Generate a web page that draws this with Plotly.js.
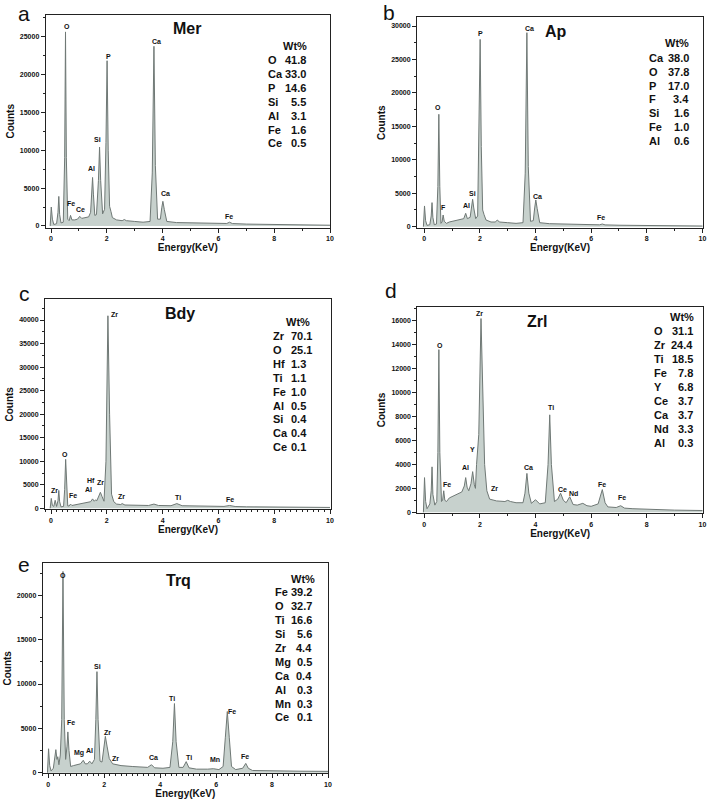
<!DOCTYPE html>
<html><head><meta charset="utf-8">
<script src="https://cdn.plot.ly/plotly-3.0.1.min.js"></script>
<style>html,body{margin:0;padding:0;background:#fff}#chart{width:708px;height:801px}</style>
</head><body><div id="chart"></div>
<script>
// ---------- DATA ----------
// Panel a : Mer
const merEnergy = [-0.03,0.01,0.05,0.1,0.2,0.25,0.28,0.31,0.36,0.44,0.49,0.52,0.55,0.6,0.65,0.7,0.75,0.85,0.95,1.03,1.1,1.2,1.35,1.42,1.46,1.49,1.52,1.57,1.63,1.7,1.74,1.78,1.85,1.92,1.97,2.01,2.05,2.1,2.15,2.2,2.35,2.55,2.63,2.7,3.0,3.3,3.55,3.63,3.69,3.74,3.82,3.92,3.97,4.01,4.06,4.15,4.5,5,5.5,6.0,6.3,6.4,6.5,7,8,9,10];
const merCounts = [0,2500,900,200,300,1800,3900,1500,400,500,9000,25600,9000,900,700,1400,800,800,900,1270,1000,1100,1200,1800,4500,6400,4200,1400,1500,6000,10400,6000,1600,2200,11000,21800,10000,2600,1900,1100,800,700,850,700,600,500,600,7000,23700,8000,900,900,2400,3250,2200,600,450,400,350,300,330,500,320,250,180,130,100];
const merElements = ['O','Ca','P','Si','Al','Fe','Ce'];
const merWt = ['41.8','33.0','14.6','5.5','3.1','1.6','0.5'];
const merPeakText = ['O','Ca','P','Si','Al','Ca','Fe','Ce','Fe'];
const merPeakEnergy = [0.56,3.79,2.05,1.67,1.46,4.12,0.7,1.04,6.38];
const merPeakCounts = [26300,24400,22300,11400,7560,4260,2950,2200,1190];

// Panel b : Ap
const apEnergy = [-0.03,0.01,0.05,0.1,0.2,0.25,0.28,0.31,0.36,0.44,0.49,0.525,0.56,0.6,0.64,0.68,0.72,0.8,0.9,1.1,1.3,1.42,1.49,1.55,1.65,1.7,1.74,1.78,1.85,1.92,1.97,2.01,2.05,2.1,2.15,2.22,2.4,2.55,2.63,2.7,3.0,3.3,3.55,3.63,3.69,3.74,3.82,3.92,3.97,4.01,4.06,4.15,4.5,5,5.5,6.0,6.3,6.4,6.5,7,8,9,10];
const apCounts = [0,3100,900,200,300,1600,3600,1400,300,400,6000,16800,6000,500,700,1750,800,500,700,900,1000,1200,2000,1200,1400,3000,4100,2800,1200,1600,13000,28000,12000,2500,1800,1000,700,700,1000,700,600,500,600,8000,29000,9000,800,900,2800,4000,2700,600,450,380,330,280,280,400,270,220,160,120,100];
const apElements = ['Ca','O','P','F','Si','Fe','Al'];
const apWt = ['38.0','37.8','17.0','3.4','1.6','1.0','0.6'];
const apPeakText = ['O','F','Al','Si','P','Ca','Ca','Fe'];
const apPeakEnergy = [0.5,0.68,1.53,1.75,2.03,3.79,4.06,6.37];
const apPeakCounts = [17800,2900,3100,5000,28900,29650,4500,1400];

// Panel c : Bdy
const bdyEnergy = [-0.03,0.01,0.05,0.1,0.15,0.2,0.25,0.28,0.31,0.36,0.45,0.49,0.525,0.56,0.6,0.65,0.7,0.75,0.9,1.1,1.3,1.42,1.49,1.55,1.6,1.64,1.7,1.77,1.83,1.9,1.97,2.04,2.1,2.17,2.25,2.35,2.5,2.55,2.65,3.0,3.5,3.69,3.85,4.3,4.51,4.7,5.5,6.2,6.4,6.6,7,8,9,10];
const bdyCounts = [0,2100,600,400,1700,400,1600,3800,1400,300,400,4000,10400,4000,500,500,900,600,800,1000,1200,1400,2000,1500,1800,1600,2400,3400,2500,1500,10000,40900,20000,3000,1400,900,800,1000,700,650,600,900,600,550,1000,550,450,400,600,380,320,250,200,180];
const bdyElements = ['Zr','O','Hf','Ti','Fe','Al','Si','Ca','Ce'];
const bdyWt = ['70.1','25.1','1.3','1.1','1.0','0.5','0.4','0.4','0.1'];
const bdyPeakText = ['Zr','O','Fe','Al','Hf','Zr','Zr','Zr','Ti','Fe'];
const bdyPeakEnergy = [0.12,0.5,0.79,1.34,1.43,1.79,2.26,2.51,4.54,6.42];
const bdyPeakCounts = [3700,11500,2800,3900,6000,5450,41200,2600,2270,1770];

// Panel d : Zrl
const zrlEnergy = [-0.03,0.01,0.05,0.1,0.2,0.25,0.28,0.31,0.38,0.45,0.49,0.525,0.56,0.62,0.66,0.7,0.74,0.8,0.9,1.0,1.2,1.35,1.44,1.49,1.54,1.6,1.68,1.74,1.8,1.84,1.88,1.92,1.96,2.04,2.1,2.17,2.25,2.35,2.6,2.9,3.0,3.1,3.3,3.55,3.62,3.69,3.76,3.85,4.0,4.15,4.35,4.45,4.51,4.57,4.68,4.8,4.9,5.0,5.1,5.23,5.35,5.5,5.7,5.85,6.0,6.1,6.25,6.4,6.5,6.6,6.9,7.06,7.2,7.5,8,9,10];
const zrlCounts = [0,2900,900,300,700,1800,3800,1500,600,900,5000,13600,5000,900,1000,1800,1000,900,1200,1300,1500,1700,2200,2900,2100,1800,2400,3400,2300,2000,4000,5200,6500,16200,10000,4000,1800,1100,950,900,1000,900,800,800,1600,3250,1600,750,1050,700,800,4000,8150,4000,900,1100,1600,1000,800,1300,650,600,750,550,500,600,700,1900,800,450,400,550,350,300,250,180,150];
const zrlElements = ['O','Zr','Ti','Fe','Y','Ce','Ca','Nd','Al'];
const zrlWt = ['31.1','24.4','18.5','7.8','6.8','3.7','3.7','3.3','0.3'];
const zrlPeakText = ['Zr','O','Y','Al','Fe','Zr','Ca','Ti','Ce','Nd','Fe','Fe'];
const zrlPeakEnergy = [2.0,0.56,1.75,1.5,0.83,2.54,3.75,4.57,4.96,5.38,6.4,7.12];
const zrlPeakCounts = [16640,13940,5270,3760,2340,1980,3710,8750,1920,1590,2340,1230];

// Panel e : Trq
const trqEnergy = [-0.03,0.01,0.05,0.1,0.18,0.23,0.27,0.31,0.34,0.38,0.43,0.48,0.525,0.57,0.62,0.67,0.7,0.74,0.8,0.9,1.0,1.15,1.25,1.32,1.4,1.48,1.56,1.65,1.7,1.74,1.78,1.85,1.92,1.98,2.04,2.1,2.18,2.3,2.6,3.0,3.3,3.55,3.69,3.8,4.1,4.35,4.45,4.51,4.57,4.67,4.82,4.93,5.03,5.3,5.7,5.9,6.1,6.25,6.33,6.4,6.47,6.55,6.7,6.95,7.06,7.15,7.3,8,9,10];
const trqCounts = [0,2700,800,200,500,1500,2600,1500,1800,900,2000,6000,22700,6000,1500,3000,4600,2500,700,800,900,1000,1400,1000,1000,1300,1000,1500,6000,11400,6000,1300,1200,3000,4100,3000,1600,1000,800,700,600,600,900,550,500,600,3500,7800,3500,600,600,1250,550,400,400,450,350,700,4000,6900,4000,700,350,500,1050,500,250,200,170,150];
const trqElements = ['Fe','O','Ti','Si','Zr','Mg','Ca','Al','Mn','Ce'];
const trqWt = ['39.2','32.7','16.6','5.6','4.4','0.5','0.4','0.3','0.3','0.1'];
const trqPeakText = ['O','Fe','Si','Zr','Mg','Al','Zr','Ca','Ti','Ti','Mn','Fe','Fe'];
const trqPeakEnergy = [0.54,0.8,1.76,2.12,1.11,1.49,2.4,3.76,4.44,5.04,5.95,6.57,7.05];
const trqPeakCounts = [22200,5710,11950,4590,2260,2560,1580,1730,8380,1730,1500,6880,1800];

// ---------- LAYOUT ----------
const W = 708, H = 801;
const FONT = 'Arial, "Liberation Sans", Helvetica, sans-serif';
const px = v => v / W, py = v => 1 - v / H;

const panels = [
  {letter:'a', title:'Mer', E:merEnergy, C:merCounts, el:merElements, wt:merWt, pt:merPeakText, pe:merPeakEnergy, pc:merPeakCounts,
   box:[45.7,330,15,227.5], xr:[-0.19,10], yr:[-200,27830], ydt:5000, ymin:2500, xmin:1,
   letterPos:[24,0], titlePos:[186.7,29], wtPos:[295,45.7], row0:60, dy:13.9, elX:265.7, valX:308.3, valAlign:'right'},
  {letter:'b', title:'Ap', E:apEnergy, C:apCounts, el:apElements, wt:apWt, pt:apPeakText, pe:apPeakEnergy, pc:apPeakCounts,
   box:[417,703,17.3,228], xr:[-0.26,10.02], yr:[-195,31300], ydt:5000, ymin:2500, xmin:1,
   letterPos:[388.5,-1], titlePos:[555.7,31.7], wtPos:[676.7,42.7], row0:58.3, dy:13.7, elX:647.3, valX:691.3, valAlign:'right'},
  {letter:'c', title:'Bdy', E:bdyEnergy, C:bdyCounts, el:bdyElements, wt:bdyWt, pt:bdyPeakText, pe:bdyPeakEnergy, pc:bdyPeakCounts,
   box:[45,331,299.3,509.3], xr:[-0.215,10.036], yr:[-212,44400], ydt:5000, ymin:2500, xmin:0.2,
   letterPos:[24,280], titlePos:[180,313.3], wtPos:[297.7,322.3], row0:336, dy:13.9, elX:270.7, valX:289.3, valAlign:'left'},
  {letter:'d', title:'Zrl', E:zrlEnergy, C:zrlCounts, el:zrlElements, wt:zrlWt, pt:zrlPeakText, pe:zrlPeakEnergy, pc:zrlPeakCounts,
   box:[417.3,703,306.7,513.3], xr:[-0.25,10.02], yr:[-84,17190], ydt:2000, ymin:1000, xmin:1,
   letterPos:[391.3,277], titlePos:[537.3,321.7], wtPos:[682.3,316.7], row0:331, dy:14, elX:651.7, valX:694.7, valAlign:'right'},
  {letter:'e', title:'Trq', E:trqEnergy, C:trqCounts, el:trqElements, wt:trqWt, pt:trqPeakText, pe:trqPeakEnergy, pc:trqPeakCounts,
   box:[42.7,328,563.3,773.3], xr:[-0.2,10], yr:[-68,23620], ydt:5000, ymin:2500, xmin:0.2,
   letterPos:[24,551], titlePos:[179,580], wtPos:[303.3,579.3], row0:592.3, dy:13.9, elX:273.3, valX:314.3, valAlign:'right'}
];

const data = [];
const annotations = [];
const layout = {
  width: W, height: H, margin:{l:0,r:0,t:0,b:0},
  paper_bgcolor:'#fff', plot_bgcolor:'#fff', showlegend:false,
  font:{family:FONT, color:'#111'}
};

panels.forEach((p, i) => {
  const n = i === 0 ? '' : String(i + 1);
  const xa = 'x' + n, ya = 'y' + n;
  data.push({
    type:'scatter', mode:'lines', x:p.E, y:p.C, xaxis:xa, yaxis:ya,
    fill:'tozeroy', fillcolor:'#c7d1cd',
    line:{color:'#6f7875', width:1}, hoverinfo:'skip'
  });
  const axisCommon = {
    showline:true, linecolor:'#222', linewidth:1, mirror:true,
    showgrid:false, zeroline:false, ticks:'outside', ticklen:4, tickwidth:1, tickcolor:'#222',
    tickformat:'d', exponentformat:'none', separatethousands:false,
    tickfont:{family:FONT, size:7, weight:'bold', color:'#111'}
  };
  layout['xaxis' + n] = Object.assign({}, axisCommon, {
    domain:[px(p.box[0]), px(p.box[1])], range:p.xr, anchor:ya, dtick:2, tick0:0,
    minor:{dtick:p.xmin, ticks:'outside', ticklen:2, tickcolor:'#222'},
    title:{text:'Energy(KeV)', font:{family:FONT, size:10, weight:'bold', color:'#111'}, standoff:2}
  });
  layout['yaxis' + n] = Object.assign({}, axisCommon, {
    domain:[py(p.box[3]), py(p.box[2])], range:p.yr, anchor:xa, dtick:p.ydt, tick0:0,
    minor:{dtick:p.ymin, ticks:'outside', ticklen:2, tickcolor:'#222'},
    title:{text:'Counts', font:{family:FONT, size:10, weight:'bold', color:'#111'}, standoff:3}
  });
  // panel letter
  annotations.push({xref:'paper', yref:'paper', x:px(p.letterPos[0]), y:py(p.letterPos[1]), text:p.letter,
    showarrow:false, xanchor:'center', yanchor:'top', font:{family:FONT, size:21, color:'#111'}});
  // panel title
  annotations.push({xref:'paper', yref:'paper', x:px(p.titlePos[0]), y:py(p.titlePos[1]), text:p.title,
    showarrow:false, xanchor:'center', yanchor:'middle', font:{family:FONT, size:16, weight:'bold', color:'#111'}});
  // Wt% table
  annotations.push({xref:'paper', yref:'paper', x:px(p.wtPos[0]), y:py(p.wtPos[1]), text:'Wt%',
    showarrow:false, xanchor:'center', yanchor:'middle', font:{family:FONT, size:11, weight:'bold', color:'#111'}});
  p.el.forEach((e, k) => {
    const yy = py(p.row0 + k * p.dy);
    annotations.push({xref:'paper', yref:'paper', x:px(p.elX), y:yy, text:e, showarrow:false,
      xanchor:'left', yanchor:'middle', font:{family:FONT, size:11, weight:'bold', color:'#111'}});
    annotations.push({xref:'paper', yref:'paper', x:px(p.valX), y:yy, text:p.wt[k], showarrow:false,
      xanchor:p.valAlign, yanchor:'middle', font:{family:FONT, size:11, weight:'bold', color:'#111'}});
  });
  // peak labels
  p.pt.forEach((t, k) => {
    annotations.push({xref:xa, yref:ya, x:p.pe[k], y:p.pc[k], text:t, showarrow:false,
      xanchor:'center', yanchor:'middle', font:{family:FONT, size:7, weight:'bold', color:'#111'}});
  });
});
layout.annotations = annotations;

Plotly.newPlot('chart', data, layout, {staticPlot:true, displayModeBar:false});
</script>
</body></html>
